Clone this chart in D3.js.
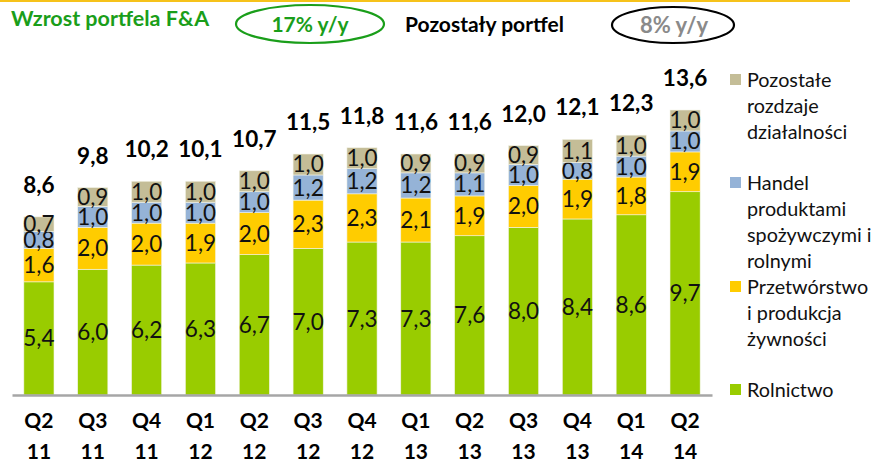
<!DOCTYPE html>
<html>
<head>
<meta charset="utf-8">
<script src="https://cdn.jsdelivr.net/npm/d3@7"></script>
<style>
    body { margin: 0; background: #fff; }
    svg { display: block; font-family: Lato, "Open Sans", sans-serif; }
</style>
</head>
<body>
<svg width="871" height="463"></svg>
<script>
// DATA ==============================================
const quarters = ['Q2 11', 'Q3 11', 'Q4 11', 'Q1 12', 'Q2 12', 'Q3 12', 'Q4 12', 'Q1 13', 'Q2 13', 'Q3 13', 'Q4 13', 'Q1 14', 'Q2 14'];
const rolnictwo = [5.4, 6.0, 6.2, 6.3, 6.7, 7.0, 7.3, 7.3, 7.6, 8.0, 8.4, 8.6, 9.7];
const przetworstwo = [1.6, 2.0, 2.0, 1.9, 2.0, 2.3, 2.3, 2.1, 1.9, 2.0, 1.9, 1.8, 1.9];
const handel = [0.8, 1.0, 1.0, 1.0, 1.0, 1.2, 1.2, 1.2, 1.1, 1.0, 0.8, 1.0, 1.0];
const pozostale = [0.7, 0.9, 1.0, 1.0, 1.0, 1.0, 1.0, 0.9, 0.9, 0.9, 1.1, 1.0, 1.0];
const totals = [8.6, 9.8, 10.2, 10.1, 10.7, 11.5, 11.8, 11.6, 11.6, 12.0, 12.1, 12.3, 13.6];

const seriesKeys = ['rolnictwo', 'przetworstwo', 'handel', 'pozostale'];
const seriesColors = ['#99cc00', '#ffcc00', '#95b3d7', '#c4bd97'];
const legendLines = [
    ['Pozostałe', 'rozdzaje', 'działalności'],
    ['Handel', 'produktami', 'spożywczymi i', 'rolnymi'],
    ['Przetwórstwo', 'i produkcja', 'żywności'],
    ['Rolnictwo']
];
const legendColors = ['#c4bd97', '#95b3d7', '#ffcc00', '#99cc00'];
const legendTops = [80, 183, 287, 390];

const fmt = v => v.toFixed(1).replace('.', ',');

const svg = d3.select('svg');

// table for the stack
const rows = quarters.map((q, i) => ({
    q: q,
    rolnictwo: rolnictwo[i],
    przetworstwo: przetworstwo[i],
    handel: handel[i],
    pozostale: pozostale[i],
    total: totals[i]
}));

const x = d3.scaleBand()
    .domain(quarters)
    .range([12, 712])
    .paddingInner(0.44)
    .paddingOuter(0.22);

const y = d3.scaleLinear()
    .domain([0, 13.6])
    .range([395, 110]);

const stacked = d3.stack().keys(seriesKeys)(rows);

// HEADER ==============================================
svg.append('line')
    .attr('x1', 0).attr('x2', 850)
    .attr('y1', 1).attr('y2', 1)
    .attr('stroke', '#f6c21a').attr('stroke-width', 2);

svg.append('text')
    .attr('x', 11).attr('y', 26)
    .attr('font-size', 21.5).attr('font-weight', 'bold')
    .attr('fill', '#1a9e1a')
    .text('Wzrost portfela F&A');

svg.append('ellipse')
    .attr('cx', 310).attr('cy', 24).attr('rx', 74).attr('ry', 19)
    .attr('fill', 'none').attr('stroke', '#1a9e1a').attr('stroke-width', 2.2);

svg.append('text')
    .attr('x', 310).attr('y', 32)
    .attr('text-anchor', 'middle')
    .attr('font-size', 21).attr('font-weight', 'bold')
    .attr('fill', '#1a9e1a')
    .text('17% y/y');

svg.append('text')
    .attr('x', 405).attr('y', 32)
    .attr('font-size', 21).attr('font-weight', 'bold')
    .attr('fill', '#000')
    .text('Pozostały portfel');

svg.append('ellipse')
    .attr('cx', 673).attr('cy', 25).attr('rx', 61).attr('ry', 18)
    .attr('fill', 'none').attr('stroke', '#000').attr('stroke-width', 2.2);

svg.append('text')
    .attr('x', 674).attr('y', 33)
    .attr('text-anchor', 'middle')
    .attr('font-size', 22).attr('font-weight', 'bold')
    .attr('fill', '#8a8a8a')
    .text('8% y/y');

// BARS ==============================================
const layers = svg.selectAll('.layer')
    .data(stacked)
    .enter()
    .append('g')
    .attr('class', 'layer')
    .attr('fill', (d, i) => seriesColors[i]);

layers.selectAll('rect')
    .data(d => d)
    .enter()
    .append('rect')
    .attr('x', d => x(d.data.q))
    .attr('width', x.bandwidth())
    .attr('y', d => y(d[1]))
    .attr('height', d => y(d[0]) - y(d[1]))
    .attr('stroke', '#f4f4e8')
    .attr('stroke-width', 0.6);

layers.selectAll('text')
    .data(d => d.map(v => ({ v: v, key: d.key })))
    .enter()
    .append('text')
    .attr('x', d => x(d.v.data.q) + x.bandwidth() / 2)
    .attr('y', d => (y(d.v[0]) + y(d.v[1])) / 2 + 8)
    .attr('text-anchor', 'middle')
    .attr('font-size', 22.5)
    .attr('fill', '#111')
    .text(d => fmt(d.v.data[d.key]));

// totals
svg.selectAll('.total')
    .data(rows)
    .enter()
    .append('text')
    .attr('class', 'total')
    .attr('x', d => x(d.q) + x.bandwidth() / 2)
    .attr('y', d => y(d.rolnictwo + d.przetworstwo + d.handel + d.pozostale) - 24)
    .attr('text-anchor', 'middle')
    .attr('font-size', 22.5)
    .attr('font-weight', 'bold')
    .attr('fill', '#000')
    .text(d => fmt(d.total));

// AXIS ==============================================
const axis = svg.append('g')
    .attr('transform', 'translate(0,395)')
    .call(d3.axisBottom(x).tickSize(0).tickPadding(0));

axis.select('.domain')
    .attr('stroke', '#a6a6a6')
    .attr('stroke-width', 2.5);

axis.selectAll('.tick text').remove();
axis.selectAll('.tick').each(function (d) {
    const parts = d.split(' ');
    const t = d3.select(this).append('text')
        .attr('text-anchor', 'middle')
        .attr('font-size', 21)
        .attr('font-weight', 'bold')
        .attr('fill', '#000')
        .attr('font-family', 'Lato, sans-serif');
    t.append('tspan').attr('x', 0).attr('y', 33).text(parts[0]);
    t.append('tspan').attr('x', 0).attr('y', 64).text(parts[1]);
});

// LEGEND ==============================================
const legend = svg.selectAll('.legend')
    .data(legendLines)
    .enter()
    .append('g')
    .attr('class', 'legend');

legend.append('rect')
    .attr('x', 730)
    .attr('y', (d, i) => legendTops[i] - 6)
    .attr('width', 11)
    .attr('height', 11)
    .attr('fill', (d, i) => legendColors[i]);

legend.each(function (lines, i) {
    const t = d3.select(this).append('text')
        .attr('font-size', 19.8)
        .attr('fill', '#111');
    lines.forEach((ln, j) => {
        t.append('tspan')
            .attr('x', 747)
            .attr('y', legendTops[i] + 7 + j * 26)
            .text(ln);
    });
});
</script>
</body>
</html>
